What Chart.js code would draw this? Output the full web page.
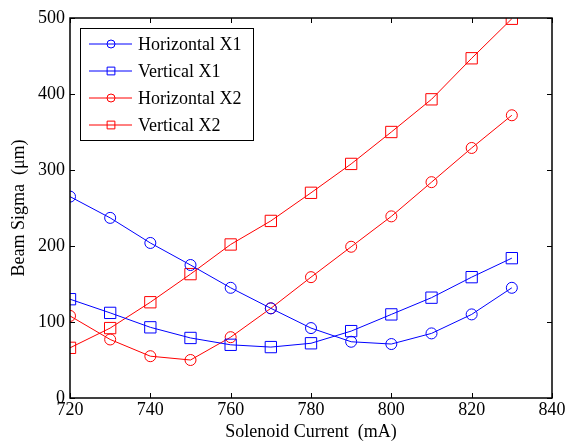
<!DOCTYPE html>
<html>
<head>
<meta charset="utf-8">
<script src="https://cdn.jsdelivr.net/npm/chart.js@4/dist/chart.umd.min.js"></script>
<style>
  html, body { margin: 0; padding: 0; background: #fff; }
  #wrap { width: 569px; height: 443px; }
</style>
</head>
<body>
<div id="wrap"><canvas id="beamChart" width="569" height="443"></canvas></div>
<script>
// Solenoid scan data
const currents = [720, 730, 740, 750, 760, 770, 780, 790, 800, 810, 820, 830];
const horizontalX1 = [265, 237, 204, 175, 145, 118, 92, 74, 71, 85, 110, 145];
const verticalX1 = [130, 112, 93, 79, 70, 67, 72, 88, 110, 132, 159, 184];
const horizontalX2 = [108, 77, 55, 50, 80, 118, 159, 199, 239, 284, 329, 372];
const verticalX2 = [66, 92, 126, 163, 202, 233, 270, 308, 350, 393, 447, 499];
const xTicks = [720, 740, 760, 780, 800, 820, 840];
const yTicks = [0, 100, 200, 300, 400, 500];

const serif = "'Liberation Serif', 'Times New Roman', serif";

function series(label, values, color, style) {
    return {
        label: label,
        data: currents.map((c, i) => ({ x: c, y: values[i] })),
        borderColor: color,
        borderWidth: 1,
        backgroundColor: 'transparent',
        pointStyle: style,
        pointRadius: style === 'rect' ? 8 : 5.5,
        pointBorderColor: color,
        pointBackgroundColor: 'transparent',
        pointBorderWidth: 1,
        tension: 0
    };
}

// MATLAB style box with inward ticks
const framePlugin = {
    id: 'frame',
    afterDraw(chart) {
        const ctx = chart.ctx;
        const a = chart.chartArea;
        const xs = chart.scales.x, ys = chart.scales.y;
        ctx.save();
        ctx.strokeStyle = '#000';
        ctx.lineWidth = 1;
        ctx.beginPath();
        xTicks.forEach(v => {
            const px = Math.round(xs.getPixelForValue(v)) + 0.5;
            ctx.moveTo(px, a.bottom); ctx.lineTo(px, a.bottom - 5);
            ctx.moveTo(px, a.top); ctx.lineTo(px, a.top + 5);
        });
        yTicks.forEach(v => {
            const py = Math.round(ys.getPixelForValue(v)) + 0.5;
            ctx.moveTo(a.left, py); ctx.lineTo(a.left + 5, py);
            ctx.moveTo(a.right, py); ctx.lineTo(a.right - 5, py);
        });
        ctx.stroke();
        ctx.lineWidth = 1.5;
        ctx.strokeRect(a.left, a.top, a.right - a.left, a.bottom - a.top);
        ctx.restore();
    }
};

// legend box with line + marker samples
const legendPlugin = {
    id: 'matlabLegend',
    afterDraw(chart) {
        const ctx = chart.ctx;
        const box = { x: 80, y: 28, w: 173, h: 112 };
        ctx.save();
        ctx.fillStyle = '#fff';
        ctx.fillRect(box.x, box.y, box.w, box.h);
        ctx.strokeStyle = '#000';
        ctx.lineWidth = 1;
        ctx.strokeRect(box.x + 0.5, box.y + 0.5, box.w, box.h);
        chart.data.datasets.forEach((ds, i) => {
            const y = box.y + 16 + i * 27;
            ctx.strokeStyle = ds.borderColor;
            ctx.lineWidth = 1;
            ctx.beginPath();
            ctx.moveTo(box.x + 9, y);
            ctx.lineTo(box.x + 52, y);
            ctx.stroke();
            ctx.fillStyle = 'rgba(0,0,0,0)';
            ctx.strokeStyle = ds.borderColor;
            Chart.helpers.drawPoint(ctx, {
                pointStyle: ds.pointStyle,
                radius: ds.pointStyle === 'rect' ? 5.5 : 4,
                borderWidth: 1,
                rotation: 0
            }, box.x + 31, y);
            ctx.fillStyle = '#000';
            ctx.font = '18px ' + serif;
            ctx.textBaseline = 'middle';
            ctx.textAlign = 'left';
            ctx.fillText(ds.label, box.x + 58, y + 1);
        });
        ctx.restore();
    }
};

new Chart(document.getElementById('beamChart'), {
    type: 'line',
    data: {
        datasets: [
            series('Horizontal X1', horizontalX1, '#0000ff', 'circle'),
            series('Vertical X1', verticalX1, '#0000ff', 'rect'),
            series('Horizontal X2', horizontalX2, '#ff0000', 'circle'),
            series('Vertical X2', verticalX2, '#ff0000', 'rect')
        ]
    },
    options: {
        responsive: false,
        animation: false,
        devicePixelRatio: 1,
        layout: { padding: { top: 18, right: 17, left: 0, bottom: 0 } },
        plugins: {
            legend: { display: false },
            tooltip: { enabled: false }
        },
        scales: {
            x: {
                type: 'linear',
                min: 720,
                max: 840,
                afterBuildTicks: (scale) => { scale.ticks = xTicks.map(v => ({ value: v })); },
                afterFit: (scale) => { scale.height = 45; },
                ticks: { color: '#000', font: { family: serif, size: 18 }, padding: 1, maxRotation: 0 },
                grid: { display: false, drawTicks: false },
                border: { display: false },
                title: {
                    display: true,
                    text: 'Solenoid Current  (mA)',
                    color: '#000',
                    font: { family: serif, size: 18 },
                    padding: { top: 0, bottom: 0 }
                }
            },
            y: {
                min: 0,
                max: 500,
                afterBuildTicks: (scale) => { scale.ticks = yTicks.map(v => ({ value: v })); },
                afterFit: (scale) => { scale.width = 70; },
                ticks: { color: '#000', font: { family: serif, size: 18 }, padding: 5 },
                grid: { display: false, drawTicks: false },
                border: { display: false },
                title: {
                    display: true,
                    text: 'Beam Sigma  (\u03bcm)',
                    color: '#000',
                    font: { family: serif, size: 18 },
                    padding: { top: 8, bottom: 0 }
                }
            }
        }
    },
    plugins: [framePlugin, legendPlugin]
});
</script>
</body>
</html>
